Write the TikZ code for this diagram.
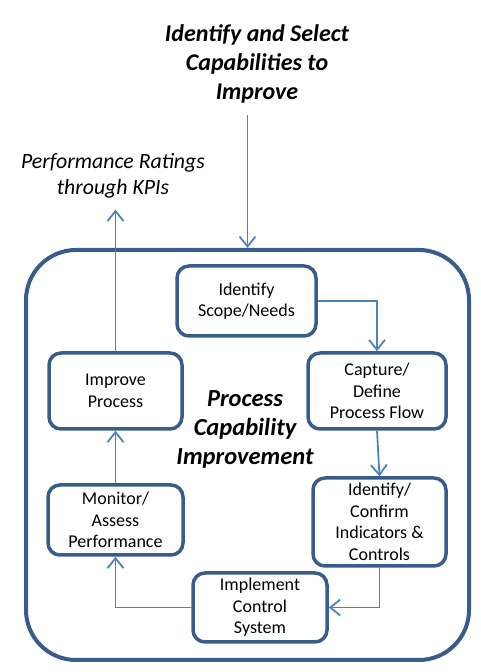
\documentclass[tikz,border=0pt]{standalone}
\usepackage{fontspec}
\setmainfont{Carlito}
\usepackage{tikz}
\usetikzlibrary{positioning,arrows.meta,calc}
\definecolor{edgecol}{RGB}{56,93,138}
\definecolor{flowcol}{RGB}{79,129,189}

\begin{document}
\begin{tikzpicture}[
  x=1pt, y=1pt,
  every node/.style={font=\fontsize{18}{21.5}\selectfont},
  stage/.style={draw=edgecol, line width=3.5pt, rounded corners=12pt, align=center, inner sep=2pt},
  flow/.style={draw=flowcol, line width=1.8pt, -{Straight Barb[length=10pt,width=16pt,line width=1.8pt]}},
  heading/.style={align=center, font=\fontsize{24}{29}\selectfont\bfseries\itshape},
]
\useasboundingbox (0,0) rectangle (481,672);
% outer frame
\node[draw=edgecol, line width=4pt, rounded corners=50pt, minimum width=443pt, minimum height=410pt] (frame) at (247.5,217) {};
\node[heading] (title) at (257,608) {Identify and Select\\Capabilities to\\Improve};
\node[align=center, font=\fontsize{21.8}{25.5}\selectfont\itshape] (ratings) at (113,496) {Performance Ratings\\through KPIs};
\node[heading, font=\fontsize{24.5}{29}\selectfont\bfseries\itshape] (core) at (245,243) {Process\\Capability\\Improvement};
% stages
\node[stage, minimum width=139pt, minimum height=70pt] (scope)   at (246.5,371) {Identify\\Scope/Needs};
\node[stage, minimum width=138pt, minimum height=76pt] (capture) at (377,281)   {Capture/\\Define\\Process Flow};
\node[stage, minimum width=133pt, minimum height=88pt] (indic)   at (379.5,150) {Identify/\\Confirm\\Indicators \&\\Controls};
\node[stage, minimum width=134pt, minimum height=69pt] (impl)    at (260,64.5)  {Implement\\Control\\System};
\node[stage, minimum width=135pt, minimum height=70pt] (monitor) at (115.5,152) {Monitor/\\Assess\\Performance};
\node[stage, minimum width=133pt, minimum height=76pt] (improve) at (115.5,281) {Improve\\Process};
% connectors
\draw[flow] (scope.east) -| (capture.north);
\draw[flow] (capture.south) -- (indic.north);
\draw[flow] (indic.south) |- (impl.east);
\draw[flow] (impl.west) -| (monitor.south);
\draw[flow] (monitor.north) -- (improve.south);
\draw[flow] (improve.north) -- ([yshift=-8pt]ratings.south -| improve.north);
\draw[flow] ([yshift=-8pt]title.south -| frame.north) -- (frame.north);
\end{tikzpicture}
\end{document}
